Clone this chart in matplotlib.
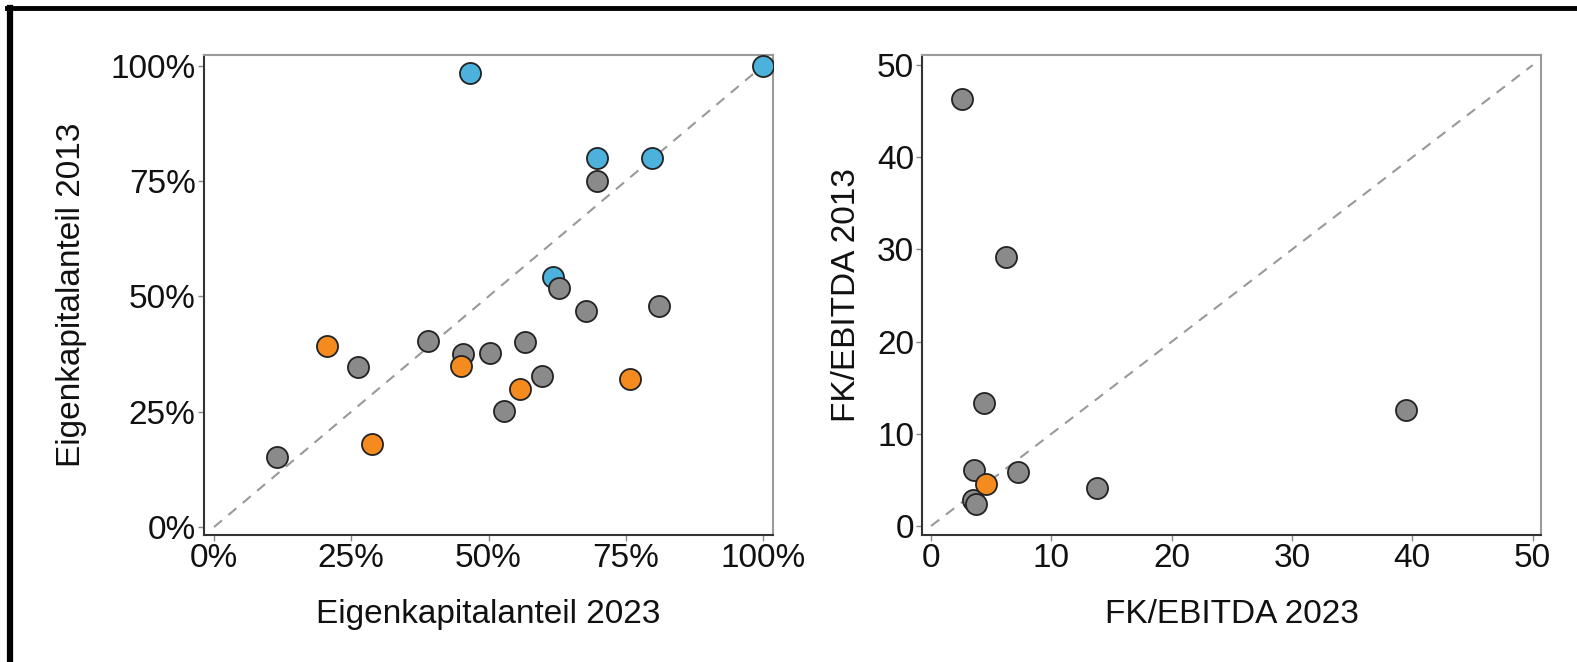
import matplotlib
matplotlib.use("Agg")
import matplotlib.pyplot as plt
from matplotlib.ticker import PercentFormatter
from matplotlib.lines import Line2D

plt.rcParams['font.family'] = ['Liberation Sans', 'DejaVu Sans']

# Eigenkapitalanteil (share of equity), 2023 vs 2013
ek_blue_2023 = [0.466, 1.00, 0.698, 0.798, 0.617]
ek_blue_2013 = [0.983, 1.00, 0.800, 0.800, 0.541]
ek_gray_2023 = [0.698, 0.629, 0.678, 0.811, 0.389, 0.566, 0.454, 0.502, 0.263, 0.598, 0.528, 0.115]
ek_gray_2013 = [0.749, 0.519, 0.469, 0.479, 0.403, 0.400, 0.375, 0.377, 0.347, 0.328, 0.252, 0.152]
ek_orange_2023 = [0.205, 0.449, 0.558, 0.758, 0.287]
ek_orange_2013 = [0.393, 0.348, 0.300, 0.320, 0.181]

# FK/EBITDA, 2023 vs 2013
fk_gray_2023 = [2.6, 6.2, 4.4, 39.5, 3.6, 7.2, 13.8, 3.5, 3.75]
fk_gray_2013 = [46.3, 29.2, 13.3, 12.6, 6.1, 5.9, 4.1, 2.8, 2.4]
fk_orange_2023 = [4.6]
fk_orange_2013 = [4.6]

pct_ticks = [0, 0.25, 0.5, 0.75, 1.0]
num_ticks = [0, 10, 20, 30, 40, 50]

GRAY = '#8a8a8a'
BLUE = '#4cb1db'
ORANGE = '#f58a1f'
EDGE = '#222222'

fig = plt.figure(figsize=(15.77, 6.62), dpi=100)
ax1 = fig.add_axes([0.1294, 0.1918, 0.3608, 0.7251])
ax2 = fig.add_axes([0.5849, 0.1918, 0.3923, 0.7251])

sc = dict(s=230, edgecolors=EDGE, linewidths=1.3, zorder=3)

ax1.plot([0, 1], [0, 1], ls=(0, (5, 4)), color='#999999', lw=1.5, zorder=2)
ax1.scatter(ek_blue_2023, ek_blue_2013, c=BLUE, **sc)
ax1.scatter(ek_gray_2023, ek_gray_2013, c=GRAY, **sc)
ax1.scatter(ek_orange_2023, ek_orange_2013, c=ORANGE, **sc)
ax1.set_xlim(-0.0182, 1.0182)
ax1.set_ylim(-0.0173, 1.023)
ax1.set_xticks(pct_ticks)
ax1.set_yticks(pct_ticks)
ax1.xaxis.set_major_formatter(PercentFormatter(1.0, decimals=0))
ax1.yaxis.set_major_formatter(PercentFormatter(1.0, decimals=0))
ax1.set_xlabel('Eigenkapitalanteil 2023')
ax1.set_ylabel('Eigenkapitalanteil 2013')

ax2.plot([0, 50], [0, 50], ls=(0, (5, 4)), color='#999999', lw=1.5, zorder=2)
ax2.scatter(fk_gray_2023, fk_gray_2013, c=GRAY, **sc)
ax2.scatter(fk_orange_2023, fk_orange_2013, c=ORANGE, **sc)
ax2.set_xlim(-0.72, 50.7)
ax2.set_ylim(-0.98, 51.1)
ax2.set_xticks(num_ticks)
ax2.set_yticks(num_ticks)
ax2.set_xlabel('FK/EBITDA 2023')
ax2.set_ylabel('FK/EBITDA 2013')

for ax in (ax1, ax2):
    for side in ('left', 'bottom'):
        ax.spines[side].set_color('#333333')
        ax.spines[side].set_linewidth(1.5)
    for side in ('top', 'right'):
        ax.spines[side].set_color('#9a9a9a')
        ax.spines[side].set_linewidth(1.5)
    ax.tick_params(direction='out', length=4, width=1, color='#888888',
                   labelsize=24, labelcolor='#111111', pad=2)
    ax.xaxis.label.set_size(24)
    ax.yaxis.label.set_size(24)
    ax.xaxis.label.set_color('#111111')
    ax.yaxis.label.set_color('#111111')

ax1.xaxis.set_label_coords(0.5, -0.133)
ax1.yaxis.set_label_coords(-0.205, 0.5)
ax2.xaxis.set_label_coords(0.5, -0.133)
ax2.yaxis.set_label_coords(-0.098, 0.5)

# black frame at top and left
fig.add_artist(Line2D([7 / 1577, 1], [654 / 662, 654 / 662], color='black', lw=3.5,
                      transform=fig.transFigure))
fig.add_artist(Line2D([10 / 1577, 10 / 1577], [0, 654 / 662], color='black', lw=4.5,
                      transform=fig.transFigure))

fig.savefig('out.png', dpi=100)
